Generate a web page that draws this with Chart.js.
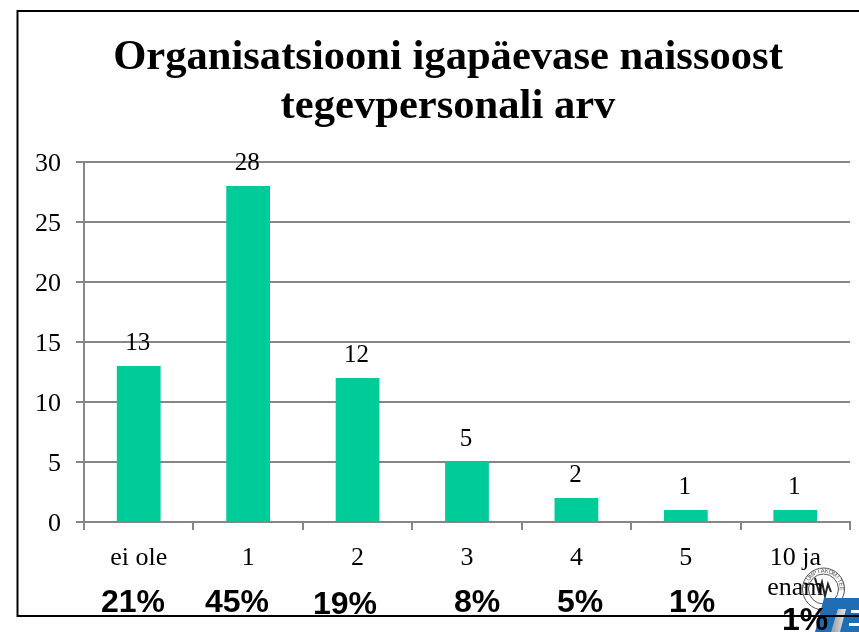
<!DOCTYPE html>
<html>
<head>
<meta charset="utf-8">
<script src="https://cdn.jsdelivr.net/npm/chart.js@4"></script>
<style>
    html, body { margin: 0; padding: 0; background: #fff; }
    #wrap { position: relative; width: 859px; height: 632px; }
</style>
</head>
<body>
<div id="wrap"><canvas id="chart" width="859" height="632"></canvas></div>
<script>
const chartTitle = ['Organisatsiooni igapäevase naissoost', 'tegevpersonali arv'];
const categories = ['ei ole', '1', '2', '3', '4', '5', ['10 ja', 'enam']];
const counts = [13, 28, 12, 5, 2, 1, 1];
const percents = ['21%', '45%', '19%', '8%', '5%', '1%', '1%'];
const percentCentersX = [133, 237, 345, 477, 580, 692, 805];
const percentBaselineY = [612, 612, 614, 612, 612, 612, 630];

const serif = '"Liberation Serif", "Times New Roman", serif';
const sans = '"Liberation Sans", Arial, sans-serif';
const axisGrey = '#868686';

// frame and seal go under the chart
const slideBack = {
    id: 'slideBack',
    // tick labels get clipped to the scale box, so open it up to the left
    afterLayout(chart) {
        chart.scales.y.left = 0;
    },
    beforeDraw(chart) {
        const c = chart.ctx;
        c.save();
        c.strokeStyle = '#000';
        c.lineWidth = 2;
        c.beginPath();
        c.moveTo(859, 11);
        c.lineTo(17.5, 11);
        c.lineTo(17.5, 616);
        c.lineTo(859, 616);
        c.stroke();

        c.strokeStyle = '#555';
        c.lineWidth = 1;
        c.beginPath();
        c.arc(823.5, 589, 21, 0, Math.PI * 2);
        c.stroke();
        c.beginPath();
        c.arc(823.5, 589, 15, 0, Math.PI * 2);
        c.stroke();

        // ring of tiny lettering
        const ring = 'OLÜMPIAKOMITEE';
        c.fillStyle = '#555';
        c.font = '6px ' + sans;
        c.textAlign = 'center';
        c.textBaseline = 'middle';
        [...ring].forEach((ch, i) => {
            const a = -Math.PI * 0.95 + i * (Math.PI * 0.9 / (ring.length - 1)) * 1.05;
            c.save();
            c.translate(823.5 + Math.cos(a) * 18, 589 + Math.sin(a) * 18);
            c.rotate(a + Math.PI / 2);
            c.fillText(ch, 0, 0);
            c.restore();
        });

        // flame in the middle of the seal
        c.strokeStyle = '#222';
        c.lineWidth = 2;
        c.beginPath();
        c.moveTo(815, 578);
        c.lineTo(819, 592);
        c.lineTo(822, 582);
        c.lineTo(825, 596);
        c.lineTo(828, 584);
        c.lineTo(831, 592);
        c.stroke();
        c.restore();
    }
};

// percentages and logo corner sit on top
const slideFront = {
    id: 'slideFront',
    afterDraw(chart) {
        const c = chart.ctx;
        c.save();

        c.fillStyle = '#1f6db5';
        c.beginPath();
        c.moveTo(824, 598);
        c.lineTo(859, 598);
        c.lineTo(859, 632);
        c.lineTo(815, 632);
        c.closePath();
        c.fill();

        // pale slanted T stem and E gaps
        const stem = c.createLinearGradient(830, 0, 846, 0);
        stem.addColorStop(0, '#8f959b');
        stem.addColorStop(1, '#e6e8ea');
        c.fillStyle = stem;
        c.beginPath();
        c.moveTo(838, 609);
        c.lineTo(846, 609);
        c.lineTo(840, 632);
        c.lineTo(831, 632);
        c.closePath();
        c.fill();
        c.fillStyle = '#fff';
        c.fillRect(851, 610, 8, 3);
        c.fillRect(849, 623, 10, 3);

        c.strokeStyle = '#000';
        c.lineWidth = 2;
        c.beginPath();
        c.moveTo(700, 616);
        c.lineTo(859, 616);
        c.stroke();

        c.fillStyle = '#000';
        c.font = 'bold 32px ' + sans;
        c.textAlign = 'center';
        c.textBaseline = 'alphabetic';
        percents.forEach((p, i) => {
            c.fillText(p, percentCentersX[i], percentBaselineY[i]);
        });
        c.restore();
    }
};

// value labels sit above each bar
const barLabels = {
    id: 'barLabels',
    afterDatasetsDraw(chart) {
        const c = chart.ctx;
        const meta = chart.getDatasetMeta(0);
        c.save();
        c.fillStyle = '#000';
        c.font = '25px ' + serif;
        c.textAlign = 'center';
        c.textBaseline = 'alphabetic';
        meta.data.forEach((bar, i) => {
            c.fillText(counts[i], bar.x - 1, bar.y - 16);
        });
        c.restore();
    }
};

new Chart(document.getElementById('chart'), {
    type: 'bar',
    data: {
        labels: categories,
        datasets: [{
            data: counts,
            backgroundColor: '#00cc99',
            borderWidth: 0,
            categoryPercentage: 1,
            barPercentage: 0.4
        }]
    },
    options: {
        responsive: false,
        animation: false,
        layout: { padding: { top: 33, left: 46, right: 9, bottom: 0 } },
        plugins: {
            legend: { display: false },
            tooltip: { enabled: false },
            title: {
                display: true,
                text: chartTitle,
                color: '#000',
                font: { family: serif, size: 42.6, weight: 'bold', lineHeight: 1.15 },
                padding: { top: 0, bottom: 31 }
            }
        },
        scales: {
            x: {
                afterFit: s => { s.height = 110; },
                grid: { display: true, drawOnChartArea: false, color: axisGrey, lineWidth: 2, tickLength: 8, offset: true },
                border: { color: axisGrey, width: 2 },
                ticks: { color: '#000', font: { family: serif, size: 26, lineHeight: 1.154 }, maxRotation: 0, padding: 13 }
            },
            y: {
                min: 0,
                max: 30,
                afterFit: s => { s.width = 38; },
                grid: { color: axisGrey, lineWidth: 2, tickLength: 8 },
                border: { color: axisGrey, width: 2 },
                ticks: { stepSize: 5, color: '#000', font: { family: serif, size: 26 }, padding: 15, labelOffset: 2 }
            }
        }
    },
    plugins: [slideBack, slideFront, barLabels]
});
</script>
</body>
</html>
